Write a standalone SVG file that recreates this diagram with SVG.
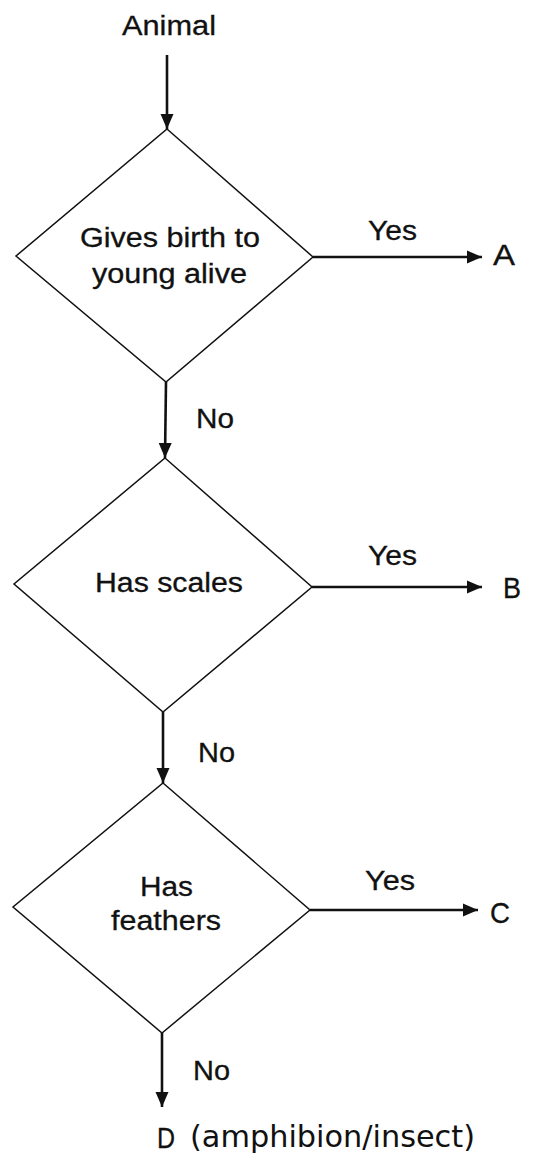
<svg xmlns="http://www.w3.org/2000/svg" width="534" height="1163" viewBox="0 0 534 1163">
<style>
text{font-family:"Liberation Sans",Arial,sans-serif;font-size:27px;fill:#111;stroke:#111;stroke-width:0.3}
.hand{font-family:"DejaVu Sans",sans-serif;font-size:30px;font-weight:normal;stroke:none}
.big{font-size:29px}
.dia{fill:none;stroke:#111;stroke-width:1.5;stroke-linejoin:miter}
.arr{fill:none;stroke:#111;stroke-width:2.6}
</style>
<defs>
<marker id="ah" markerUnits="userSpaceOnUse" markerWidth="16" markerHeight="14" refX="15" refY="7" orient="auto">
<path d="M0,0.5 L15,7 L0,13.5 z" fill="#111"/>
</marker>
</defs>
<rect width="534" height="1163" fill="#fff"/>
<g id="connectors">
<line class="arr" x1="167" y1="55" x2="167" y2="129" marker-end="url(#ah)"/>
<line class="arr" x1="313" y1="257" x2="482" y2="257" marker-end="url(#ah)"/>
<line class="arr" x1="166" y1="382" x2="165" y2="458" marker-end="url(#ah)"/>
<line class="arr" x1="312" y1="587" x2="482" y2="587" marker-end="url(#ah)"/>
<line class="arr" x1="163" y1="712" x2="163" y2="783" marker-end="url(#ah)"/>
<line class="arr" x1="310" y1="910" x2="478" y2="910" marker-end="url(#ah)"/>
<line class="arr" x1="162" y1="1033" x2="162" y2="1107" marker-end="url(#ah)"/>
<text x="368" y="240" textLength="49" lengthAdjust="spacingAndGlyphs">Yes</text>
<text x="196" y="428" textLength="38" lengthAdjust="spacingAndGlyphs">No</text>
<text x="368" y="565" textLength="49" lengthAdjust="spacingAndGlyphs">Yes</text>
<text x="198" y="762" textLength="37" lengthAdjust="spacingAndGlyphs">No</text>
<text x="365" y="890" textLength="50" lengthAdjust="spacingAndGlyphs">Yes</text>
<text x="193" y="1080" textLength="37" lengthAdjust="spacingAndGlyphs">No</text>
</g>
<g id="start">
<text x="122" y="35" textLength="94" lengthAdjust="spacingAndGlyphs">Animal</text>
</g>
<g id="q1">
<polygon class="dia" points="167,129 313,257 166,382 16,256"/>
<text x="80" y="247" textLength="180" lengthAdjust="spacingAndGlyphs">Gives birth to</text>
<text x="92" y="283" textLength="155" lengthAdjust="spacingAndGlyphs">young alive</text>
</g>
<g id="q2">
<polygon class="dia" points="165,458 312,587 163,712 14,584"/>
<text x="95" y="592" textLength="148" lengthAdjust="spacingAndGlyphs">Has scales</text>
</g>
<g id="q3">
<polygon class="dia" points="163,783 310,910 162,1033 13,907"/>
<text x="140" y="896" textLength="53" lengthAdjust="spacingAndGlyphs">Has</text>
<text x="111" y="930" textLength="110" lengthAdjust="spacingAndGlyphs">feathers</text>
</g>
<g id="A"><text class="big" x="493" y="265" textLength="22" lengthAdjust="spacingAndGlyphs">A</text></g>
<g id="B"><text class="big" x="503" y="598" textLength="18" lengthAdjust="spacingAndGlyphs">B</text></g>
<g id="C"><text class="big" x="490" y="923" textLength="20" lengthAdjust="spacingAndGlyphs">C</text></g>
<g id="D">
<text class="big" x="157" y="1148" textLength="18" lengthAdjust="spacingAndGlyphs">D</text>
<text class="hand" x="190" y="1147" textLength="285" lengthAdjust="spacingAndGlyphs">(amphibion/insect)</text>
</g>
</svg>
